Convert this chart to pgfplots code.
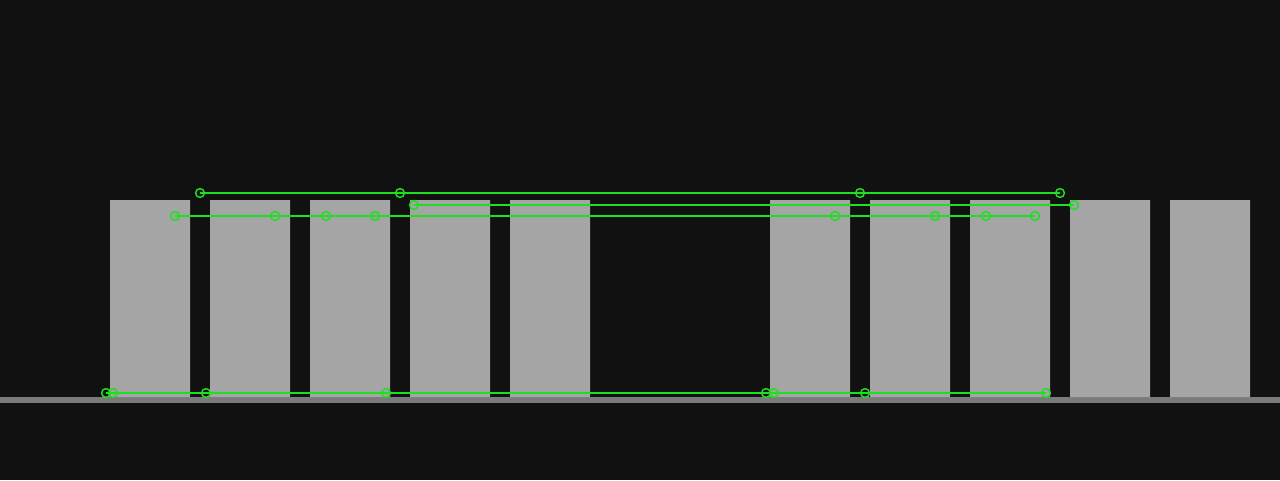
\documentclass[border=0pt]{standalone}
\usepackage{pgfplots}
\pgfplotsset{compat=1.18}
\definecolor{bg}{RGB}{17,17,17}
\definecolor{bargrey}{RGB}{165,165,165}
\definecolor{stripgrey}{RGB}{122,122,122}
\definecolor{lgreen}{RGB}{32,222,32}
\begin{document}
\begin{tikzpicture}
\begin{axis}[
    width=960pt, height=360pt,
    scale only axis,
    axis lines=none,
    xtick=\empty, ytick=\empty,
    xmin=0, xmax=1280,
    ymin=-83, ymax=397,
    axis background/.style={fill=bg},
    clip=false,
]
% floor strip
\addplot[fill=stripgrey, draw=none] coordinates {(0,0) (1280,0) (1280,-6) (0,-6)} --cycle;
% bars
\addplot[ybar, bar width=80, bar shift=0pt, fill=bargrey, draw=none] coordinates {
  (150,197) (250,197) (350,197) (450,197) (550,197)
  (810,197) (910,197) (1010,197) (1110,197) (1210,197)
};
% green guide lines
\addplot[lgreen, line width=1.5pt, mark=o, mark size=3.3pt, mark options={line width=1.1pt}] coordinates {
  (200,204) (400,204) (860,204) (1060,204)
};
\addplot[lgreen, line width=1.5pt, mark=o, mark size=3.3pt, mark options={line width=1.1pt}] coordinates {
  (414,192) (1074,192)
};
\addplot[lgreen, line width=1.5pt, mark=o, mark size=3.3pt, mark options={line width=1.1pt}] coordinates {
  (175,181) (275,181) (326,181) (375,181) (835,181) (935,181) (986,181) (1035,181)
};
\addplot[lgreen, line width=1.5pt, mark=o, mark size=3.3pt, mark options={line width=1.1pt}] coordinates {
  (106,4) (113,4) (206,4) (386,4) (766,4) (774,4) (865,4) (1046,4)
};
\end{axis}
\end{tikzpicture}
\end{document}
